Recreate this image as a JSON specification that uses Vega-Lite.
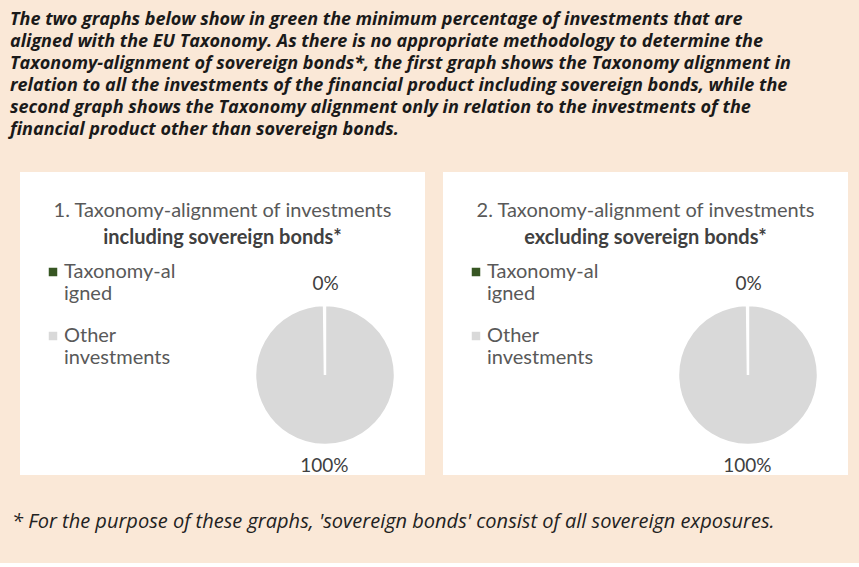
{
  "$schema": "https://vega.github.io/schema/vega-lite/v6.json",
  "background": "#FAE8D7",
  "padding": {"left": 10, "right": 11, "top": 11, "bottom": 30},
  "title": {
    "text": [
      "The two graphs below show in green the minimum percentage of investments that are",
      "aligned with the EU Taxonomy. As there is no appropriate methodology to determine the",
      "Taxonomy-alignment of sovereign bonds*, the first graph shows the Taxonomy alignment in",
      "relation to all the investments of the financial product including sovereign bonds, while the",
      "second graph shows the Taxonomy alignment only in relation to the investments of the",
      "financial product other than sovereign bonds."
    ],
    "anchor": "start",
    "dx": -2,
    "font": "Open Sans",
    "fontSize": 18,
    "fontStyle": "italic",
    "fontWeight": "bold",
    "color": "#1a1a1a",
    "lineHeight": 22,
    "offset": 33
  },
  "config": {
    "view": {"fill": "white", "stroke": null},
    "legend": {
      "orient": "none",
      "legendX": 23,
      "legendY": 90,
      "title": null,
      "symbolType": "square",
      "symbolSize": 100,
      "labelFont": "Lato",
      "labelFontSize": 20,
      "labelColor": "#595959",
      "labelLimit": 200,
      "rowPadding": 22,
      "labelOffset": 1
    },
    "title": {
      "font": "Lato",
      "fontSize": 20,
      "fontWeight": "normal",
      "color": "#595959",
      "subtitleFont": "Lato",
      "subtitleFontSize": 20,
      "subtitleFontWeight": "bold",
      "subtitleColor": "#404040",
      "subtitlePadding": 7,
      "anchor": "middle",
      "offset": -76
    }
  },
  "vconcat": [
    {
      "title": {
        "text": "* For the purpose of these graphs, 'sovereign bonds' consist of all sovereign exposures.",
        "orient": "bottom",
        "anchor": "start",
        "dx": -8,
        "offset": 36,
        "font": "Open Sans",
        "fontSize": 20,
        "fontStyle": "italic",
        "fontWeight": "normal",
        "color": "#222222"
      },
      "spacing": 18,
      "resolve": {"scale": {"color": "independent", "theta": "independent", "x": "independent", "y": "independent"}, "legend": {"color": "independent"}},
      "hconcat": [
        {
          "width": 405,
          "height": 303,
          "view": {"fill": "white", "stroke": null},
          "title": {"text": "1. Taxonomy-alignment of investments", "subtitle": "including sovereign bonds*"},
          "data": {"values": [
            {"category": "Taxonomy-aligned", "value": 0.002},
            {"category": "Other investments", "value": 0.998}
          ]},
          "encoding": {
            "x": {"datum": 0.753, "type": "quantitative", "scale": {"domain": [0, 1]}, "axis": null},
            "y": {"datum": 0.33, "type": "quantitative", "scale": {"domain": [0, 1]}, "axis": null},
            "theta": {"field": "value", "type": "quantitative", "stack": true}
          },
          "layer": [
            {
              "mark": {"type": "arc", "radius": 70, "stroke": "white", "strokeWidth": 2.5},
              "encoding": {
                "color": {
                  "field": "category", "type": "nominal",
                  "scale": {"domain": ["Taxonomy-aligned", "Other investments"], "range": ["#375623", "#D9D9D9"]},
                  "legend": {"labelExpr": "datum.label == 'Taxonomy-aligned' ? ['Taxonomy-al', 'igned'] : ['Other', 'investments']"}
                }
              }
            },
            {
              "mark": {"type": "text", "radius": 91, "font": "Lato", "fontSize": 19, "color": "#404040"},
              "encoding": {
                "text": {"field": "value", "type": "quantitative", "format": ".0%"}
              }
            }
          ]
        },
        {
          "width": 405,
          "height": 303,
          "view": {"fill": "white", "stroke": null},
          "title": {"text": "2. Taxonomy-alignment of investments", "subtitle": "excluding sovereign bonds*"},
          "data": {"values": [
            {"category": "Taxonomy-aligned", "value": 0.002},
            {"category": "Other investments", "value": 0.998}
          ]},
          "encoding": {
            "x": {"datum": 0.753, "type": "quantitative", "scale": {"domain": [0, 1]}, "axis": null},
            "y": {"datum": 0.33, "type": "quantitative", "scale": {"domain": [0, 1]}, "axis": null},
            "theta": {"field": "value", "type": "quantitative", "stack": true}
          },
          "layer": [
            {
              "mark": {"type": "arc", "radius": 70, "stroke": "white", "strokeWidth": 2.5},
              "encoding": {
                "color": {
                  "field": "category", "type": "nominal",
                  "scale": {"domain": ["Taxonomy-aligned", "Other investments"], "range": ["#375623", "#D9D9D9"]},
                  "legend": {"labelExpr": "datum.label == 'Taxonomy-aligned' ? ['Taxonomy-al', 'igned'] : ['Other', 'investments']"}
                }
              }
            },
            {
              "mark": {"type": "text", "radius": 91, "font": "Lato", "fontSize": 19, "color": "#404040"},
              "encoding": {
                "text": {"field": "value", "type": "quantitative", "format": ".0%"}
              }
            }
          ]
        }
      ]
    }
  ]
}
